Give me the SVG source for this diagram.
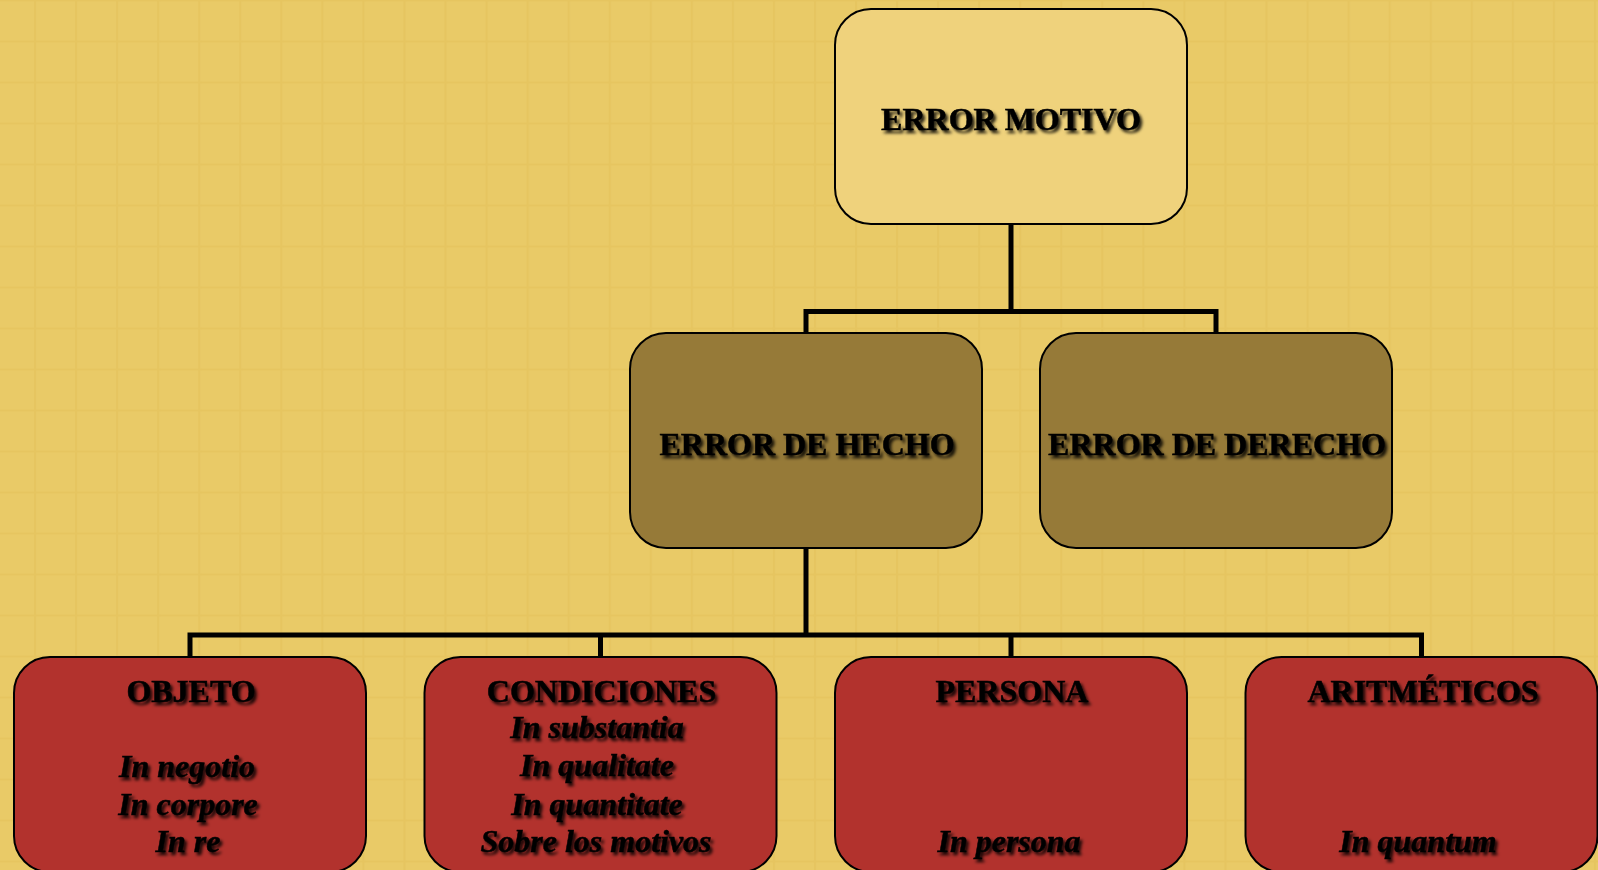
<svg xmlns="http://www.w3.org/2000/svg" width="1598" height="870" viewBox="0 0 1598 870">
<defs>
<pattern id="grid" patternUnits="userSpaceOnUse" x="34" y="40.5" width="41.05" height="41">
<rect width="41.05" height="41" fill="#E9CA67"/>
<rect x="0" y="0" width="2" height="41" fill="#E6C560"/>
<rect x="0" y="0" width="41.05" height="2" fill="#E6C560"/>
</pattern>
<filter id="sh" x="-10%" y="-30%" width="120%" height="160%">
<feDropShadow dx="2.5" dy="3" stdDeviation="1.5" flood-color="#000" flood-opacity="0.85"/>
</filter>
</defs>
<style>
.box{stroke:#000;stroke-width:2}
.top{fill:#EFD27C}
.mid{fill:#967A38}
.bot{fill:#B2322D}
.conn{fill:none;stroke:#000;stroke-width:5;stroke-linejoin:miter;stroke-linecap:butt}
text{font-family:"Liberation Serif","Times New Roman",serif;font-size:32px;font-weight:bold;fill:#000;stroke:#000;stroke-width:0.5;text-anchor:middle;filter:url(#sh)}
.it{font-style:italic}
</style>
<rect width="1598" height="870" fill="url(#grid)"/>
<g id="connectors">
<path class="conn" d="M1011 224V311.5M806 333V311.5H1216V333"/>
<path class="conn" d="M806 548V635M190 657V635H1421.5V657M600.5 635V657M1011 635V657"/>
</g>
<g id="error-motivo">
<rect class="box top" x="835" y="9" width="352" height="215" rx="36"/>
<text x="1011" y="130">ERROR MOTIVO</text>
</g>
<g id="error-de-hecho">
<rect class="box mid" x="630" y="333" width="352" height="215" rx="36"/>
<text x="807" y="455">ERROR DE HECHO</text>
</g>
<g id="error-de-derecho">
<rect class="box mid" x="1040" y="333" width="352" height="215" rx="36"/>
<text x="1217" y="455">ERROR DE DERECHO</text>
</g>
<g id="objeto">
<rect class="box bot" x="14" y="657" width="352" height="215" rx="36"/>
<text x="191" y="702">OBJETO</text>
<text class="it" x="187" y="777">In negotio</text>
<text class="it" x="188" y="815">In corpore</text>
<text class="it" x="188" y="852">In re</text>
</g>
<g id="condiciones">
<rect class="box bot" x="424.5" y="657" width="352" height="215" rx="36"/>
<text x="601.5" y="702">CONDICIONES</text>
<text class="it" x="597" y="738">In substantia</text>
<text class="it" x="597" y="776">In qualitate</text>
<text class="it" x="597" y="815">In quantitate</text>
<text class="it" x="596" y="852">Sobre los motivos</text>
</g>
<g id="persona">
<rect class="box bot" x="835" y="657" width="352" height="215" rx="36"/>
<text x="1012" y="702">PERSONA</text>
<text class="it" x="1009" y="852">In persona</text>
</g>
<g id="aritmeticos">
<rect class="box bot" x="1245.5" y="657" width="352" height="215" rx="36"/>
<text x="1423" y="702">ARITMÉTICOS</text>
<text class="it" x="1418" y="852">In quantum</text>
</g>
</svg>
